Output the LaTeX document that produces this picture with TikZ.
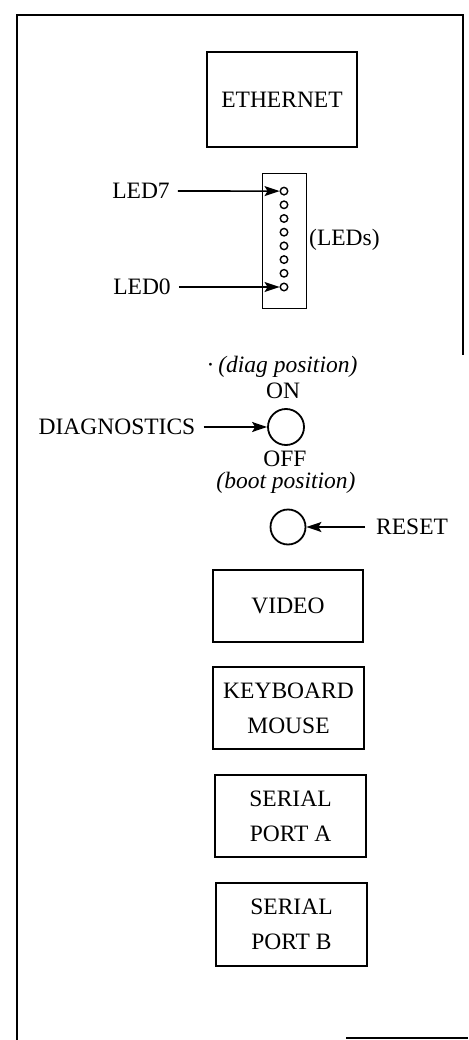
\documentclass[tikz,border=0pt]{standalone}
\usepackage{fontspec}
\setmainfont{Liberation Serif}
\usetikzlibrary{arrows.meta}
\begin{document}
\begin{tikzpicture}[x=1pt,y=-1pt,
  every node/.style={font=\fontsize{23.5}{35}\selectfont, inner sep=0pt},
  panelbox/.style={draw, line width=1.8pt, align=center},
  led/.style={draw, circle, line width=1.4pt, minimum size=7.5pt},
  knob/.style={draw, circle, line width=1.8pt, minimum size=36pt},
  lbl/.style={},
  pointer/.style={line width=1.6pt, -{Stealth[length=15pt,width=10pt,inset=3pt]}},
  frame/.style={line width=2pt}]
\useasboundingbox (0,0) rectangle (468,1040);
% outer frame (as visible)
\draw[frame] (17,1040) -- (17,15) -- (463,15) -- (463,355);
\draw[frame] (346,1038) -- (468,1038);

% ETHERNET
\node[panelbox, minimum width=150pt, minimum height=95pt] (eth) at (282,99.5) {ETHERNET};

% LED bar
\node[draw, line width=1.8pt, minimum width=44pt, minimum height=135pt] (bar) at (284.5,241) {};
\foreach \i in {0,...,7} {
  \node[led] (led\i) at (284, {287 - \i*13.7}) {};
}
\node[lbl] (ledseven) at (141,191) {LED7};
\node[lbl] (ledzero) at (142,287) {LED0};
\coordinate (l7s) at ([xshift=8pt]ledseven.east);
\draw[pointer] (l7s) -- (led7.west);
\coordinate (l0s) at ([xshift=8pt]ledzero.east);
\draw[pointer] (l0s) -- (led0.west);
\node[lbl, anchor=west] (ledsl) at (309,240) {(LEDs)};

% Diagnostics switch
\node[knob] (diag) at (286,427) {};
\node[lbl, anchor=base] (diagpos) at (282,372) {·\,\textit{(diag position)}};
\node[lbl, anchor=base] (on) at (283,398) {ON};
\node[lbl, anchor=base] (off) at (285,466) {OFF};
\node[lbl, anchor=base] (bootpos) at (286,488) {\textit{(boot position)}};
\node[lbl] (diagl) at (117,427) {DIAGNOSTICS};
\coordinate (dgs) at ([xshift=8pt]diagl.east);
\draw[pointer] (dgs) -- (diag.west);

% Reset button
\node[knob, minimum size=35pt] (reset) at (288,527) {};
\node[lbl, anchor=west] (resetl) at (376,527) {RESET};
\coordinate (rss) at ([xshift=-11pt]resetl.west);
\draw[pointer] (rss) -- (reset.east);

% Connector boxes
\node[panelbox, minimum width=150pt, minimum height=72pt] (video) at (288,606) {VIDEO};
\node[panelbox, minimum width=151pt, minimum height=82pt] (kbd) at (288.5,708) {KEYBOARD\\MOUSE};
\node[panelbox, minimum width=151pt, minimum height=82pt] (sera) at (290.5,816) {SERIAL\\PORT A};
\node[panelbox, minimum width=151pt, minimum height=83pt] (serb) at (291.5,924.5) {SERIAL\\PORT B};
\end{tikzpicture}
\end{document}
